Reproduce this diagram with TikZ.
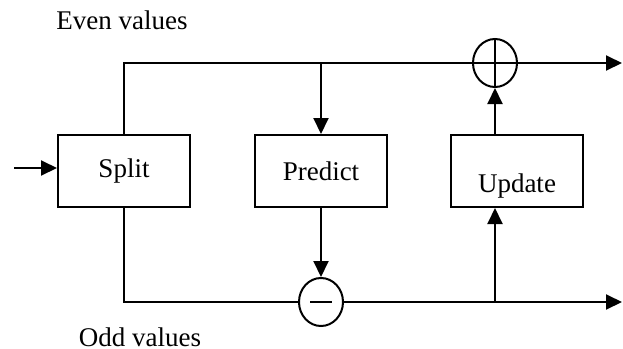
\documentclass[tikz,border=0pt]{standalone}
\usepackage{fontspec}
\setmainfont{Liberation Serif}
\usepackage{tikz}
\usetikzlibrary{arrows,arrows.meta,shapes,positioning,shapes.geometric}
\tikzset{
blk/.style = {rectangle, draw=black, line width=1pt, minimum width=66pt, minimum height=36pt, inner sep=0pt, font=\fontsize{13.5}{15}\selectfont},% bloc
sumnode/.style = {ellipse, draw=black, line width=1pt, minimum width=22pt, minimum height=24pt, inner sep=0pt},% additionneur
txt/.style = {anchor=base, inner sep=0pt, font=\fontsize{13.5}{15}\selectfont}
}
\begin{document}
\begin{tikzpicture}[x=0.5pt,y=-0.5pt,line width=1pt,
  >={Triangle[length=8pt,width=7.5pt]}]
	\useasboundingbox (0,0) rectangle (623,349);
	\node [blk] (split) at (124,171) {Split};
	\node [blk] (predict) at (321,171) {Predict};
	\node [blk] (update) at (516.5,171) {};
	\node [txt] (updtext) at (517,192) {Update};
	\node [sumnode] (plus) at (495,63) {};
	\node [sumnode] (minus) at (321,302) {};
	\node [txt] (even) at (122,29) {Even values};
	\node [txt] (odd) at (140,346) {Odd values};
	\coordinate (in) at (14,168);
	\coordinate (evenout) at (622,63);
	\coordinate (oddout) at (622,302);
	% signes
	\draw (plus.north) -- (plus.south);
	\draw (minus.center) ++(-5.5pt,0) -- ++(11pt,0);
	% branches
	\draw [->] (in) -- (in -| split.west);
	\draw (split.north) |- (plus.west) -- (plus.east);
	\draw [->] (plus.east) -- (evenout);
	\draw [->] (predict.north |- plus) -- (predict.north);
	\draw [->] (update.north -| plus) -- (plus.south);
	\draw (split.south) |- (minus.west);
	\draw [->] (predict.south) -- (minus.north);
	\draw [->] (minus.east) -- (oddout);
	\draw [->] (plus |- minus) -- (update.south -| plus);
\end{tikzpicture}
\end{document}
